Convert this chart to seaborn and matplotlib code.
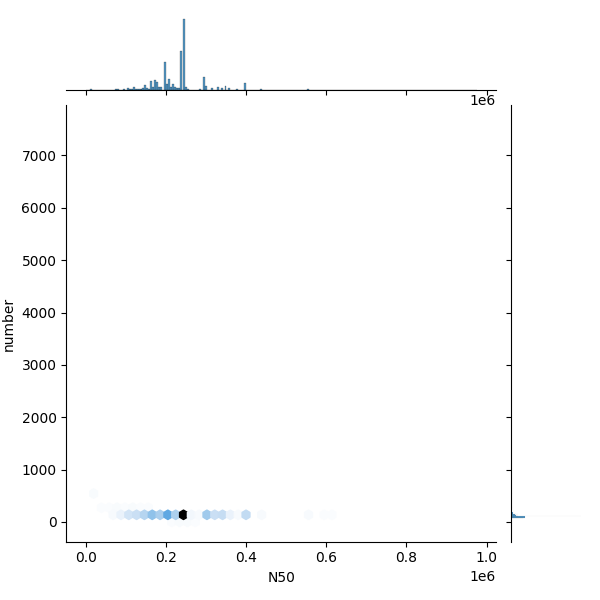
import numpy as np
import pandas as pd
import seaborn as sns
import matplotlib
matplotlib.use("Agg")
import matplotlib.pyplot as plt
from matplotlib.colors import LinearSegmentedColormap, PowerNorm

# N50 / number pairs and how many assemblies share each pair
n50 = [
    0, 975000, 12000,
    215000, 235000, 255000, 273000,
    39000, 58000, 78000, 97000, 117000, 136000, 156000,
    164000, 209000, 204000,
    296700, 397000, 302000, 169000,
    179000, 164000, 149000, 360000,
    209000, 296700,
    179000, 397000, 302000, 103000, 149000,
    196000, 200000, 219000,
    196000, 174000,
    196000, 174000, 120000,
    235000, 169000, 219000,
    235000, 145000, 347000,
    246800,
    235000, 196000, 216000, 235000, 222000,
    235000, 120000,
    235000, 347000, 227000,
    347000, 184000, 75000,
    189000, 80000, 85000, 231000,
    212000, 90000, 95000,
    252000, 328000, 337000,
    328000, 314000, 108000, 113000,
    155000,
    125000, 130000,
    135000, 140000,
    160000, 224000,
    257000, 265000,
    270000,
    285000, 377000,
    437000, 552000,
    600000, 620000,
]
number = [
    7580, 120, 545,
    5, 1, 10, 20,
    275, 270, 280, 265, 270, 275, 285,
    70, 70, 70,
    74, 74, 74, 74,
    78, 78, 78, 78,
    82, 82,
    86, 86, 86, 86, 86,
    90, 90, 90,
    94, 94,
    98, 98, 98,
    102, 102, 102,
    106, 106, 106,
    110,
    114, 118, 118, 122, 122,
    126, 126,
    130, 130, 130,
    134, 134, 134,
    138, 138, 138, 138,
    142, 142, 142,
    146, 146, 146,
    150, 150, 150, 150,
    154,
    158, 158,
    162, 162,
    166, 166,
    170, 170,
    174,
    178, 178,
    182, 182,
    186, 186,
]
count = [
    1, 1, 3,
    2, 3, 3, 2,
    2, 2, 3, 2, 3, 2, 2,
    20, 20, 12,
    26, 14, 8, 6,
    16, 16, 10, 8,
    24, 26,
    16, 14, 8, 8, 10,
    30, 12, 8,
    30, 20,
    30, 20, 4,
    40, 6, 8,
    40, 8, 8,
    280,
    20, 22, 8, 20, 8,
    16, 4,
    16, 4, 8,
    4, 12, 4,
    12, 2, 2, 8,
    12, 2, 2,
    12, 8, 8,
    4, 8, 4, 4,
    8,
    4, 4,
    4, 4,
    4, 4,
    2, 2,
    2,
    4, 4,
    4, 4,
    2, 2,
]

df = pd.DataFrame({
    "N50": np.repeat(n50, count),
    "number": np.repeat(number, count),
})

# white -> light blue -> medium blue, densest cell drawn in black
cmap = LinearSegmentedColormap.from_list("hexblues", [
    (0.00, (1.00, 1.00, 1.00)),
    (0.10, (0.96, 0.975, 0.99)),
    (0.20, (0.80, 0.88, 0.96)),
    (0.35, (0.67, 0.81, 0.93)),
    (0.50, (0.52, 0.74, 0.91)),
    (0.70, (0.34, 0.64, 0.88)),
    (1.00, (0.15, 0.45, 0.75)),
]).with_extremes(over="black")

g = sns.JointGrid(data=df, x="N50", y="number", height=6)
g.plot_joint(plt.hexbin, gridsize=50, cmap=cmap, mincnt=1,
             norm=PowerNorm(gamma=0.5, vmin=1, vmax=440))
sns.histplot(data=df, x="N50", bins=200, ax=g.ax_marg_x)
sns.histplot(data=df, y="number", bins=2000, ax=g.ax_marg_y)

g.figure.savefig("out.png", dpi=100)
